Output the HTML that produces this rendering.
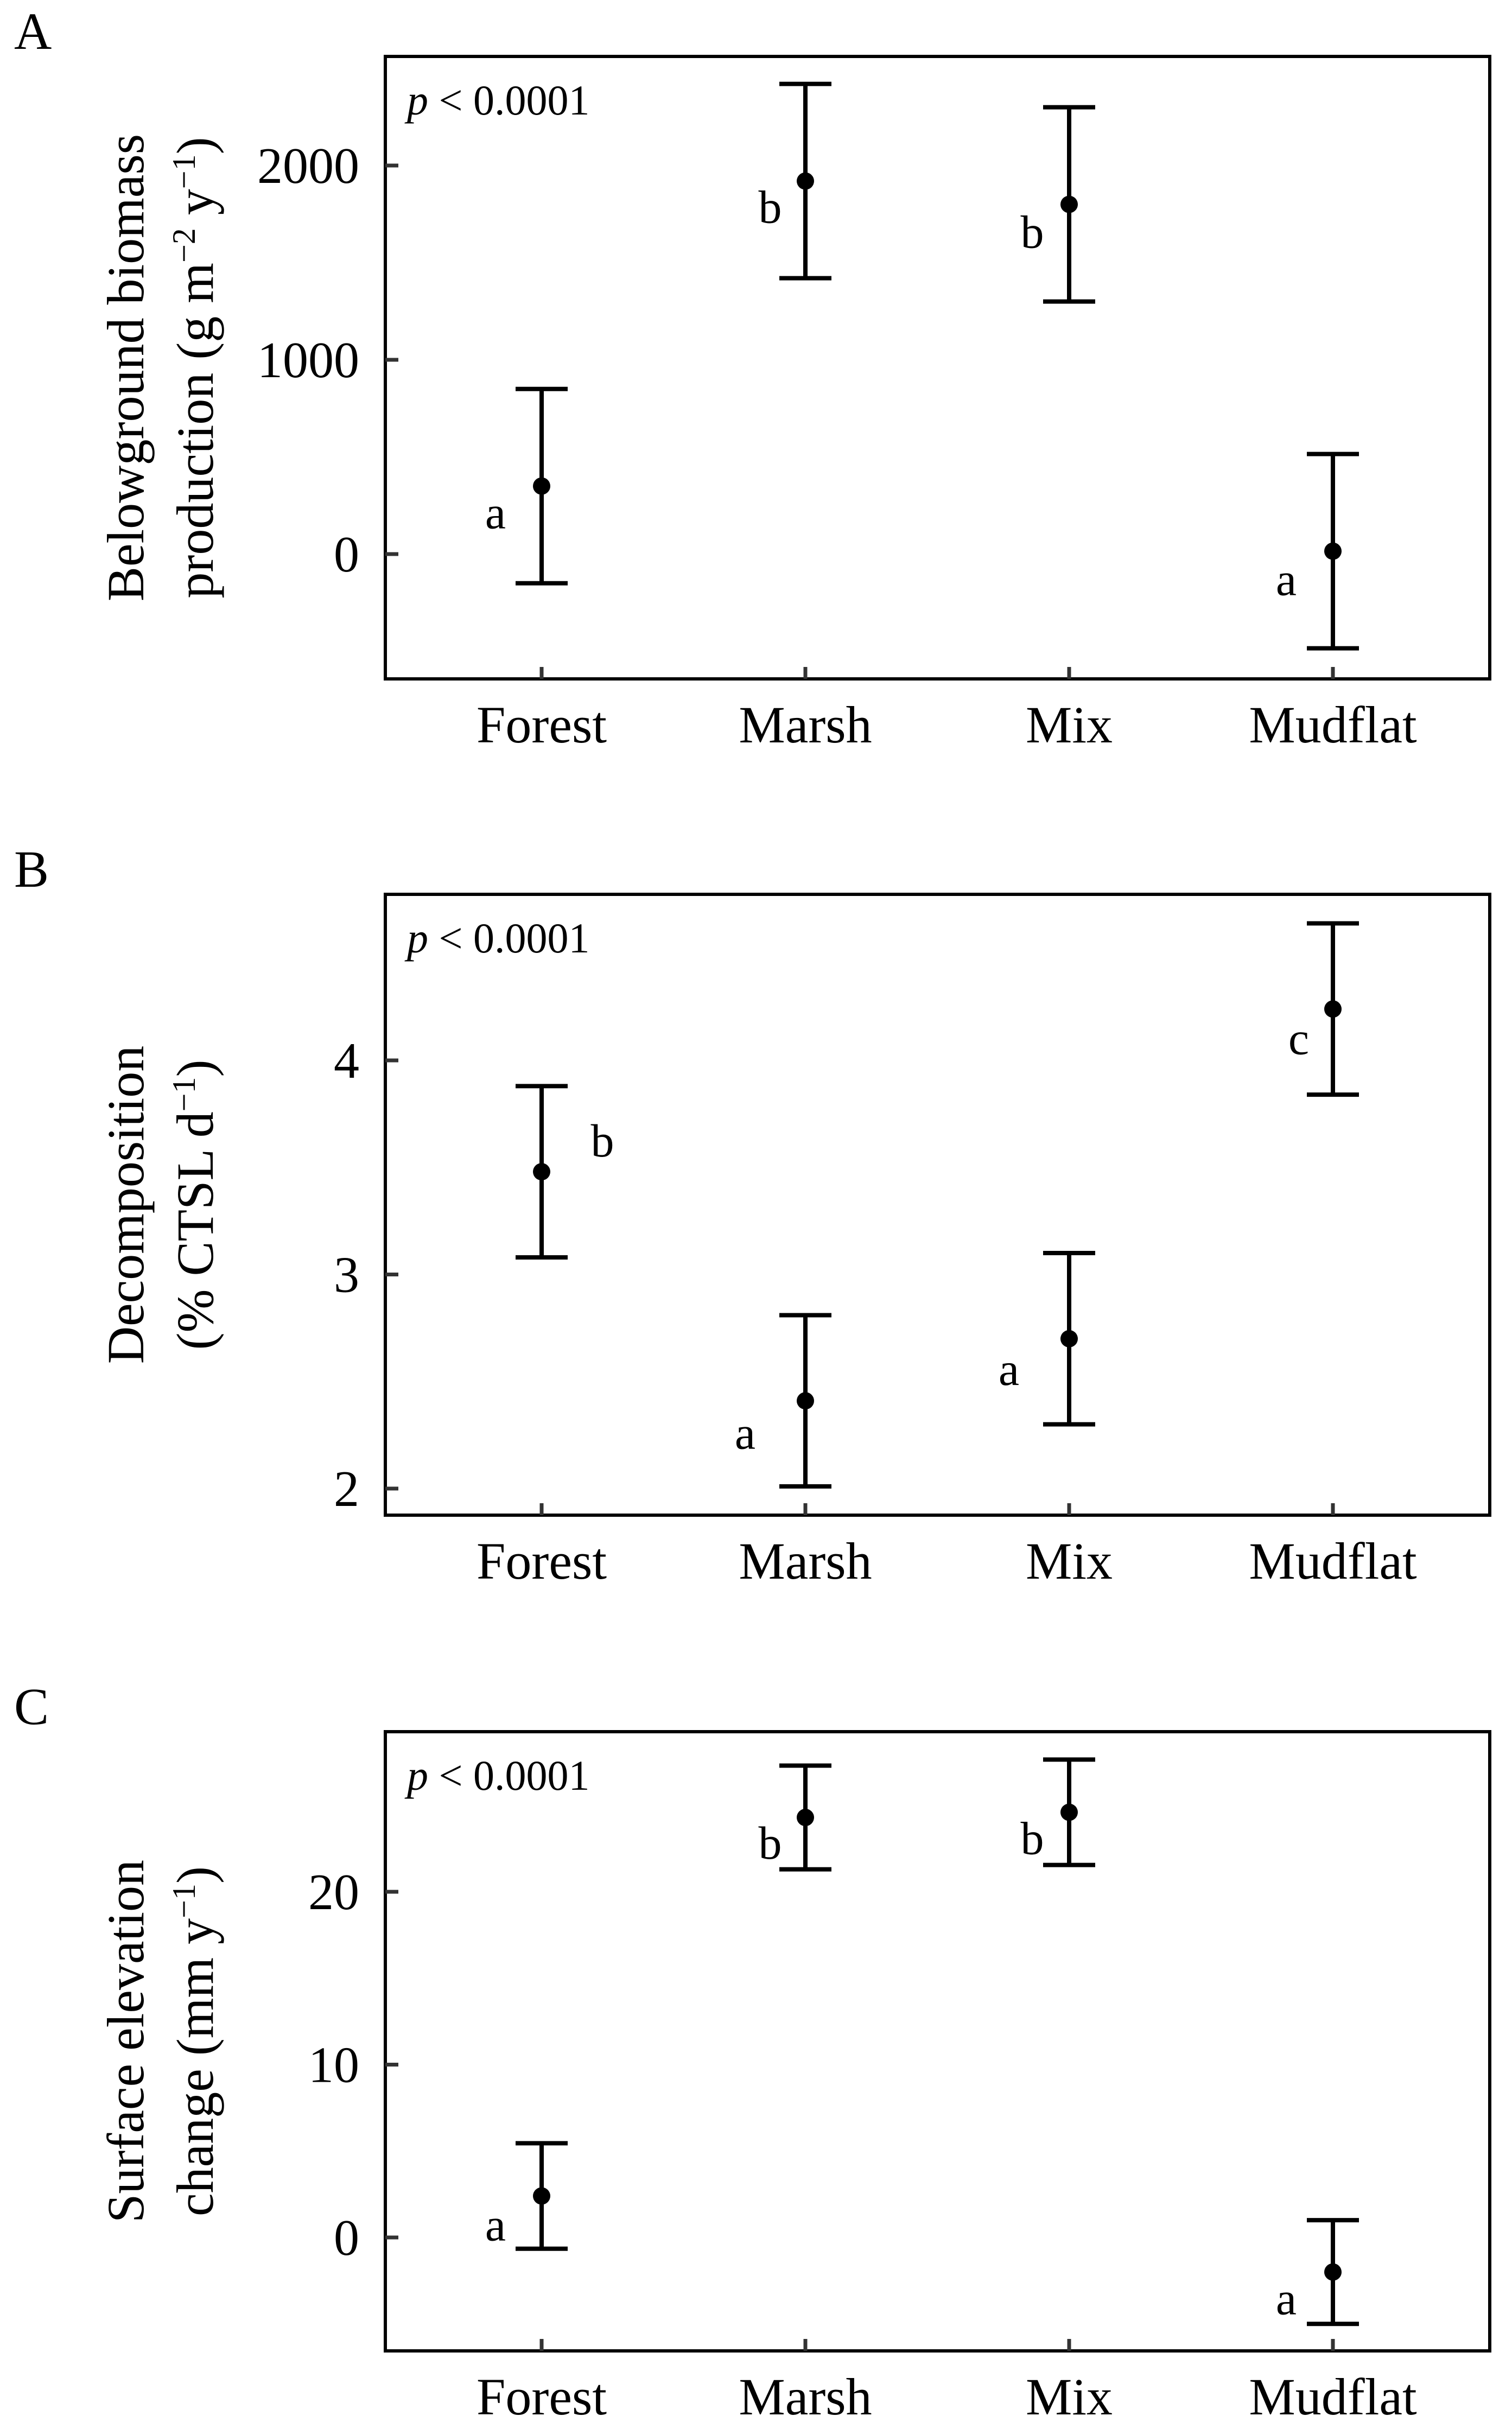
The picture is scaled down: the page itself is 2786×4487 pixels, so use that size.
<!DOCTYPE html>
<html><head><meta charset="utf-8">
<style>
html,body{margin:0;padding:0;background:#fff;}
svg{display:block;font-family:"Liberation Serif","DejaVu Serif",serif;}
</style></head>
<body>
<svg id="fig" width="2786" height="4487" viewBox="0 0 2786 4487" xmlns="http://www.w3.org/2000/svg"></svg>
<script>
const categories = ["Forest","Marsh","Mix","Mudflat"];
// Panel A: belowground biomass production
const aMean = [350, 1920, 1800, 15];
const aErr  = [500, 500, 500, 500];
const aTicks = [0, 1000, 2000];
const aLetters = ["a","b","b","a"];
// Panel B: decomposition
const bMean = [3.48, 2.41, 2.70, 4.24];
const bErr  = [0.40, 0.40, 0.40, 0.40];
const bTicks = [2, 3, 4];
const bLetters = ["b","a","a","c"];
// Panel C: surface elevation change
const cMean = [2.4, 24.3, 24.6, -2.0];
const cErr  = [3.05, 3.0, 3.05, 3.0];
const cTicks = [0, 10, 20];
const cLetters = ["a","b","b","a"];

const NS = "http://www.w3.org/2000/svg";
const svg = document.getElementById("fig");
function mk(tag, attrs, parent){
  const e = document.createElementNS(NS, tag);
  for (const k in attrs) e.setAttribute(k, attrs[k]);
  (parent||svg).appendChild(e);
  return e;
}
const X0 = 710, X1 = 2745;
function xPos(i){ return 998 + i*486; }

const panels = [
  {id:"a", label:"A", top:104, bottom:1251, v0:0, p0:1021, v1:2000, p1:305,
   mean:aMean, err:aErr, ticks:aTicks, letters:aLetters,
   off:[[-85,56],[-65,55],[-68,58],[-86,59]],
   title:["Belowground biomass", "production (g m<tspan baseline-shift='super' font-size='60'>−2</tspan> y<tspan baseline-shift='super' font-size='60'>−1</tspan>)"]},
  {id:"b", label:"B", top:1648, bottom:2792, v0:2, p0:2743, v1:4, p1:1954,
   mean:bMean, err:bErr, ticks:bTicks, letters:bLetters,
   off:[[112,-50],[-111,66],[-111,63],[-63,61]],
   title:["Decomposition", "(% CTSL d<tspan baseline-shift='super' font-size='60'>−1</tspan>)"]},
  {id:"c", label:"C", top:3191, bottom:4332, v0:0, p0:4123, v1:20, p1:3486,
   mean:cMean, err:cErr, ticks:cTicks, letters:cLetters,
   off:[[-85,60],[-65,54],[-68,55],[-86,56]],
   title:["Surface elevation", "change (mm y<tspan baseline-shift='super' font-size='60'>−1</tspan>)"]}
];

panels.forEach(P => {
  const g = mk("g", {});
  
  
  const y = v => P.p0 + (v - P.v0) * (P.p1 - P.p0) / (P.v1 - P.v0);

  const pl = mk("text", {x:26, y:P.top - 14, "font-size":96}, g);
  pl.textContent = P.label;
  
  

  const box = mk("rect", {x:X0, y:P.top, width:X1-X0, height:P.bottom-P.top, fill:"none", stroke:"#000", "stroke-width":6}, g);
  
  

  P.ticks.forEach(t => {
    const ty = y(t);
    const tl = mk("line", {x1:X0, x2:X0+24, y1:ty, y2:ty, stroke:"#333", "stroke-width":7}, g);
    
    
    const tt = mk("text", {x:662, y:ty+32, "font-size":94, "text-anchor":"end"}, g);
    tt.textContent = t;
    
    
  });

  categories.forEach((c, i) => {
    const cx = xPos(i);
    const xt = mk("line", {x1:cx, x2:cx, y1:P.bottom, y2:P.bottom-22, stroke:"#333", "stroke-width":7}, g);
    
    
    const xl = mk("text", {x:cx, y:P.bottom+117, "font-size":96, "text-anchor":"middle"}, g);
    xl.textContent = c;
    
    

    const m = P.mean[i], e = P.err[i];
    const yt = y(m+e), yb = y(m-e), ym = y(m);
    const eb = mk("g", {stroke:"#000", "stroke-width":8}, g);
    
    
    mk("line", {x1:cx, x2:cx, y1:yt, y2:yb}, eb);
    mk("line", {x1:cx-48, x2:cx+48, y1:yt, y2:yt}, eb);
    mk("line", {x1:cx-48, x2:cx+48, y1:yb, y2:yb}, eb);
    const pt = mk("circle", {cx:cx, cy:ym, r:16, fill:"#000"}, g);
    
    
    const lt = mk("text", {x:cx + P.off[i][0], y:ym + P.off[i][1] + 22, "font-size":86, "text-anchor":"middle"}, g);
    lt.textContent = P.letters[i];
    
    
  });

  const pv = mk("text", {x:750, y:P.top + 107, "font-size":78}, g);
  pv.innerHTML = "<tspan font-style='italic'>p</tspan> &lt; 0.0001";
  
  

  const cy = (P.top + P.bottom) / 2;
  const t1 = mk("text", {x:0, y:0, "font-size":96, "text-anchor":"middle", transform:`translate(264 ${cy}) rotate(-90)`}, g);
  t1.innerHTML = P.title[0];
  
  
  const t2 = mk("text", {x:0, y:0, "font-size":96, "text-anchor":"middle", transform:`translate(392 ${cy}) rotate(-90)`}, g);
  t2.innerHTML = P.title[1];
  
  
});
</script>
</body></html>
